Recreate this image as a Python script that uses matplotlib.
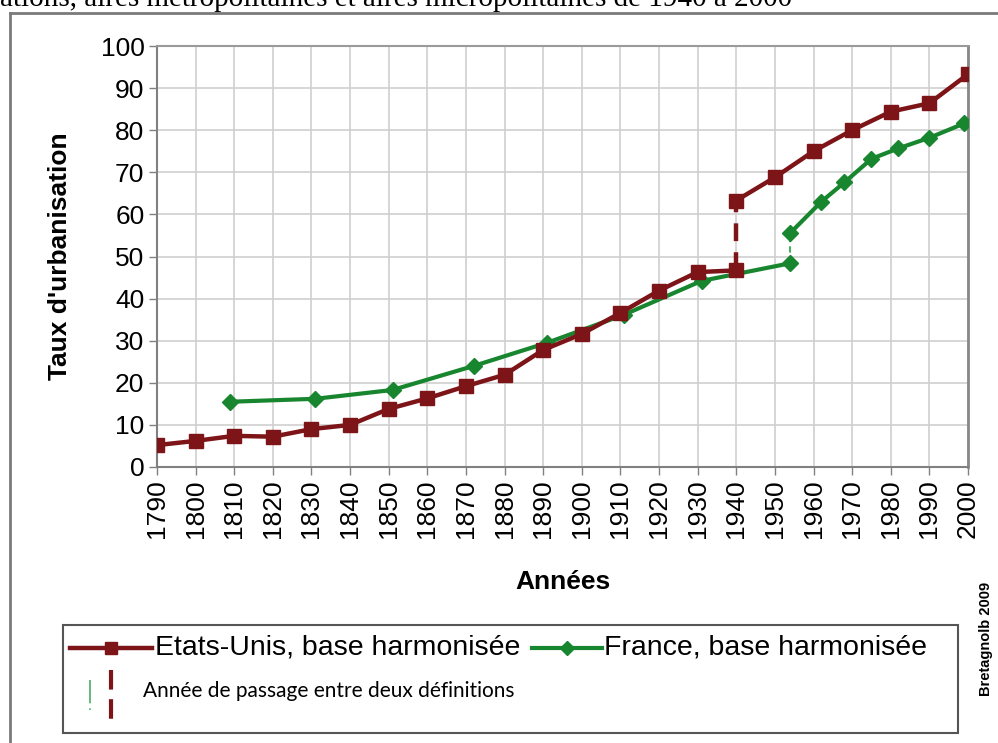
import matplotlib
matplotlib.use("Agg")
import matplotlib.pyplot as plt
from matplotlib.lines import Line2D
from matplotlib.patches import Rectangle

# Etats-Unis, base harmonisee (two definitions, switch in 1940)
us_years_a = [1790, 1800, 1810, 1820, 1830, 1840, 1850, 1860, 1870, 1880,
              1890, 1900, 1910, 1920, 1930, 1940]
us_vals_a = [5.2, 6.2, 7.4, 7.2, 9.0, 10.0, 13.8, 16.3, 19.2, 21.9,
             27.8, 31.6, 36.6, 41.9, 46.3, 46.7]
us_years_b = [1940, 1950, 1960, 1970, 1980, 1990, 2000]
us_vals_b = [63.3, 68.8, 75.0, 80.0, 84.4, 86.4, 93.3]

# France, base harmonisee (switch in 1954)
fr_years_a = [1809, 1831, 1851, 1872, 1891, 1911, 1931, 1954]
fr_vals_a = [15.5, 16.2, 18.3, 24.0, 29.5, 36.2, 44.2, 48.4]
fr_years_b = [1954, 1962, 1968, 1975, 1982, 1990, 1999]
fr_vals_b = [55.6, 63.0, 67.6, 73.2, 75.7, 78.2, 81.6]

x_ticks = list(range(1790, 2001, 10))
y_ticks = list(range(0, 101, 10))

red = "#7d1418"
green = "#17862f"
green_light = "#4cae63"

W, H = 998, 743
fig = plt.figure(figsize=(W / 100, H / 100), dpi=100)
ax = fig.add_axes([157 / W, 1 - 467 / H, (968 - 157) / W, (467 - 46) / H])

ax.plot(us_years_a, us_vals_a, color=red, lw=3.2, marker="s", ms=10, zorder=4)
ax.plot(us_years_b, us_vals_b, color=red, lw=3.2, marker="s", ms=10, zorder=4)
ax.plot([us_years_a[-1], us_years_b[0]], [us_vals_a[-1], us_vals_b[0]],
        color=red, lw=3.2, dashes=(4, 2.5), zorder=3)

ax.plot(fr_years_a, fr_vals_a, color=green, lw=3, marker="D", ms=8, zorder=3)
ax.plot(fr_years_b, fr_vals_b, color=green, lw=3, marker="D", ms=8, zorder=3)
ax.plot([fr_years_a[-1], fr_years_b[0]], [fr_vals_a[-1], fr_vals_b[0]],
        color=green_light, lw=1.5, dashes=(3, 2), zorder=2)

ax.set_xlim(1790, 2000)
ax.set_ylim(0, 100)
ax.set_xticks(x_ticks)
ax.set_yticks(y_ticks)
ax.set_xticklabels([str(v) for v in x_ticks], rotation=90,
                   fontsize=19, family="Liberation Sans")
ax.set_yticklabels([str(v) for v in y_ticks], fontsize=19,
                   family="Liberation Sans")
ax.tick_params(direction="out", length=6, color="#808080", width=1, pad=3)
ax.grid(True, color="#cfcfcf", lw=1.2)
ax.set_axisbelow(True)
for s in ax.spines.values():
    s.set_color("#9a9a9a")
    s.set_linewidth(1.5)
ax.spines["left"].set_color("#808080")
ax.spines["bottom"].set_color("#808080")
ax.spines["right"].set_color("#888888")
ax.spines["right"].set_linewidth(2)

ax.set_ylabel("Taux d'urbanisation", fontsize=19, fontweight="bold",
              family="Liberation Sans", va="center")
ax.yaxis.set_label_coords((60 - 157) / 811, 0.5)
ax.set_xlabel("Années", fontsize=19, fontweight="bold",
              family="Liberation Sans", va="center")
ax.xaxis.set_label_coords(0.5, (467 - 582) / 421)

# outer frame
fig.add_artist(Line2D([10 / W, 10 / W], [0, 1 - 13 / H],
                      transform=fig.transFigure, color="#7a7a7a", lw=2))
fig.add_artist(Line2D([10 / W, 1], [1 - 13 / H, 1 - 13 / H],
                      transform=fig.transFigure, color="#7a7a7a", lw=2))

# cut title at top
fig.text(0, 1 + 2 / H, "ations, aires métropolitaines et aires micropolitaines de 1940 à 2000",
         fontsize=21, family="Liberation Serif", va="center", ha="left")

# legend box
fig.add_artist(Rectangle((63 / W, 1 - 733 / H), (958 - 63) / W, (733 - 625) / H,
                         transform=fig.transFigure, fill=False,
                         edgecolor="#555555", lw=1.5))
row1 = 1 - 648 / H
fig.add_artist(Line2D([70 / W, 152 / W], [row1, row1], transform=fig.transFigure,
                      color=red, lw=3.2))
fig.add_artist(Line2D([111 / W], [row1], transform=fig.transFigure,
                      color=red, marker="s", ms=9, lw=0))
fig.text(155 / W, row1, "Etats-Unis, base harmonisée", fontsize=20.5,
         family="Liberation Sans", va="center", ha="left")
fig.add_artist(Line2D([532 / W, 602 / W], [row1, row1], transform=fig.transFigure,
                      color=green, lw=3))
fig.add_artist(Line2D([567 / W], [row1], transform=fig.transFigure,
                      color=green, marker="D", ms=7, lw=0))
fig.text(604 / W, row1, "France, base harmonisée", fontsize=20.5,
         family="Liberation Sans", va="center", ha="left")

fig.add_artist(Line2D([90 / W, 90 / W], [1 - 680 / H, 1 - 712 / H],
                      transform=fig.transFigure, color=green_light, lw=1.2,
                      dashes=(14, 3, 1, 3)))
fig.add_artist(Line2D([111 / W, 111 / W], [1 - 670 / H, 1 - 722 / H],
                      transform=fig.transFigure, color=red, lw=3,
                      dashes=(4.7, 2.3)))
fig.text(143 / W, 1 - 691 / H, "Année de passage entre deux définitions",
         fontsize=15, family="Lato", va="center", ha="left")

fig.text(986 / W, 1 - 639 / H, "Bretagnolb 2009", rotation=90, fontsize=10.5,
         fontweight="bold", family="Liberation Sans", va="center", ha="center")

fig.savefig("out.png", dpi=100)
